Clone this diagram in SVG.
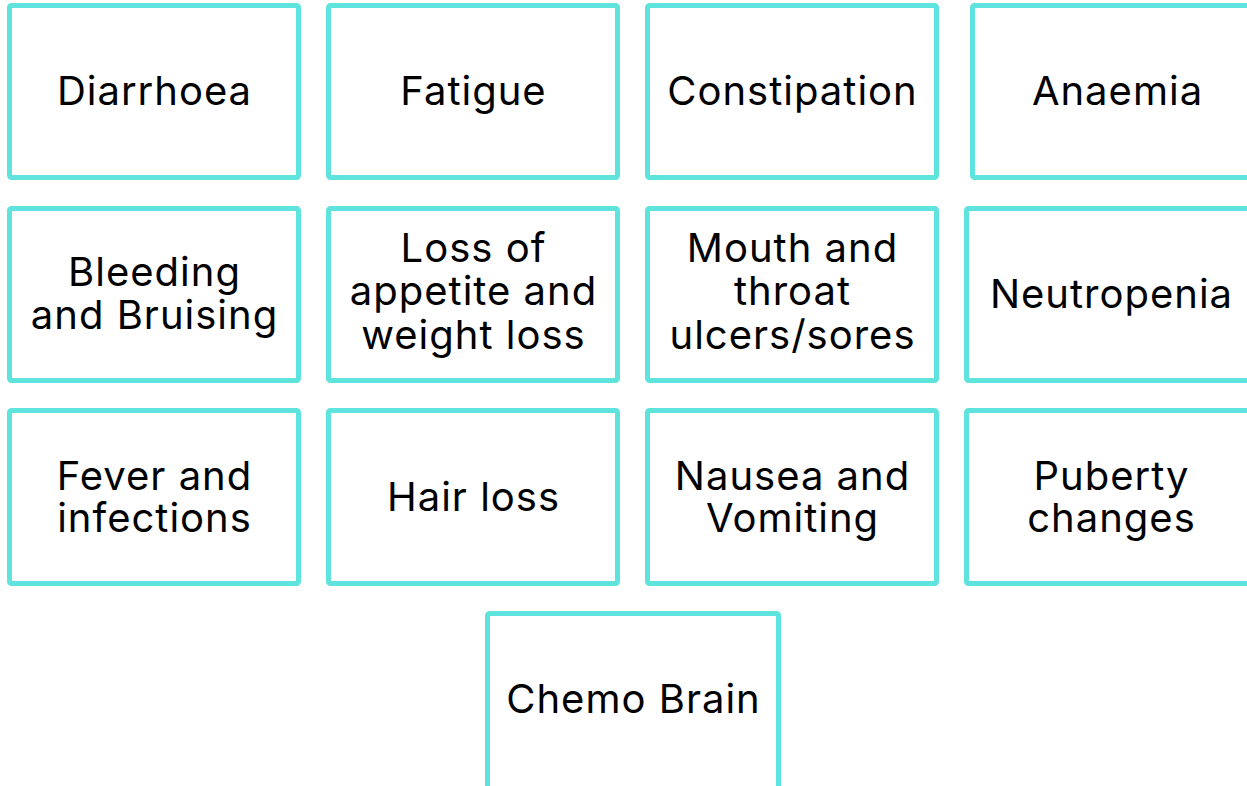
<svg xmlns="http://www.w3.org/2000/svg" width="1247" height="786" viewBox="0 0 1247 786">
<style>
.box{fill:#ffffff;stroke:#5ee4dc;stroke-width:5}
.t{font-family:Inter,"Noto Sans","Liberation Sans",sans-serif;font-size:40px;letter-spacing:1px;fill:#000;text-anchor:middle}
</style>
<rect width="1247" height="786" fill="#ffffff"/>
<g id="connectors"></g>
<g id="n-diarrhoea"><rect class="box" x="9.5" y="5.5" width="289" height="172" rx="2"/><text class="t" x="154.5" y="105">Diarrhoea</text></g>
<g id="n-fatigue"><rect class="box" x="328.5" y="5.5" width="289" height="172" rx="2"/><text class="t" x="473.5" y="105">Fatigue</text></g>
<g id="n-constipation"><rect class="box" x="647.5" y="5.5" width="289" height="172" rx="2"/><text class="t" x="792.5" y="105">Constipation</text></g>
<g id="n-anaemia"><rect class="box" x="972.5" y="5.5" width="289" height="172" rx="2"/><text class="t" x="1117.5" y="105">Anaemia</text></g>
<g id="n-bleeding"><rect class="box" x="9.5" y="208.5" width="289" height="172" rx="2"/><text class="t" x="154.5" y="286">Bleeding</text><text class="t" x="154.5" y="329">and Bruising</text></g>
<g id="n-appetite"><rect class="box" x="328.5" y="208.5" width="289" height="172" rx="2"/><text class="t" x="473.5" y="262">Loss of</text><text class="t" x="473.5" y="305">appetite and</text><text class="t" x="473.5" y="349">weight loss</text></g>
<g id="n-mouth"><rect class="box" x="647.5" y="208.5" width="289" height="172" rx="2"/><text class="t" x="792.5" y="262">Mouth and</text><text class="t" x="792.5" y="305">throat</text><text class="t" x="792.5" y="349">ulcers/sores</text></g>
<g id="n-neutropenia"><rect class="box" x="966.5" y="208.5" width="289" height="172" rx="2"/><text class="t" x="1111.5" y="308">Neutropenia</text></g>
<g id="n-fever"><rect class="box" x="9.5" y="410.5" width="289" height="173" rx="2"/><text class="t" x="154.5" y="490">Fever and</text><text class="t" x="154.5" y="532">infections</text></g>
<g id="n-hair"><rect class="box" x="328.5" y="410.5" width="289" height="173" rx="2"/><text class="t" x="473.5" y="511">Hair loss</text></g>
<g id="n-nausea"><rect class="box" x="647.5" y="410.5" width="289" height="173" rx="2"/><text class="t" x="792.5" y="490">Nausea and</text><text class="t" x="792.5" y="532">Vomiting</text></g>
<g id="n-puberty"><rect class="box" x="966.5" y="410.5" width="289" height="173" rx="2"/><text class="t" x="1111.5" y="490">Puberty</text><text class="t" x="1111.5" y="532">changes</text></g>
<g id="n-chemo"><rect class="box" x="487.5" y="613.5" width="291" height="180" rx="2"/><text class="t" x="633.5" y="713">Chemo Brain</text></g>
</svg>
